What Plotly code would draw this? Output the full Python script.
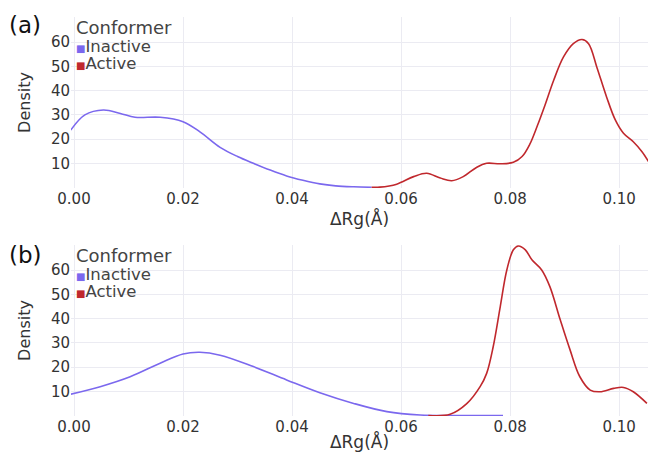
import plotly.graph_objects as go

# ---- data ----
a_inactive_x = [-0.0006, 0.0020, 0.0054, 0.0085, 0.0112, 0.0158, 0.0200, 0.0231, 0.0268, 0.0300,
                0.0329, 0.0360, 0.0390, 0.0420, 0.0451, 0.0480, 0.0513, 0.0546]
a_inactive_y = [23.7, 30.0, 32.0, 30.6, 29.0, 29.0, 27.2, 23.0, 16.6, 12.8,
                10.0, 7.2, 4.8, 3.0, 1.5, 0.7, 0.3, 0.1]

a_active_x = [0.0546, 0.0561, 0.0592, 0.0623, 0.0647, 0.0672, 0.0693, 0.0714, 0.0739, 0.0757,
              0.0782, 0.0806, 0.0822, 0.0836, 0.0850, 0.0864, 0.0880, 0.0898, 0.0916, 0.0932, 0.0944,
              0.0959, 0.0977, 0.0993, 0.1008, 0.1026, 0.1042, 0.1054]
a_active_y = [0.1, 0.15, 1.4, 4.5, 5.9, 3.9, 2.8, 4.5, 8.4, 10.0,
              9.8, 10.4, 12.8, 17.8, 25.5, 34.0, 44.3, 53.9, 59.4, 61.1, 59.4,
              49.8, 37.4, 27.9, 22.4, 18.9, 14.8, 10.7]

b_inactive_x = [-0.0006, 0.0048, 0.0103, 0.0158, 0.0200, 0.0231, 0.0268, 0.0329, 0.0390, 0.0451,
                0.0513, 0.0574, 0.0635, 0.0700, 0.0787]
b_inactive_y = [8.8, 11.9, 16.0, 21.6, 25.4, 26.1, 24.9, 20.2, 14.7, 9.4,
                5.0, 1.6, 0.2, 0.0, 0.0]

b_active_x = [0.0650, 0.0690, 0.0721, 0.0745, 0.0757, 0.0769, 0.0782, 0.0794, 0.0806, 0.0815,
              0.0828, 0.0840, 0.0858, 0.0873, 0.0892, 0.0910, 0.0928, 0.0947, 0.0965, 0.0990,
              0.1008, 0.1026, 0.1051]
b_active_y = [0.0, 0.5, 5.0, 11.9, 17.4, 28.4, 45.0, 60.1, 68.4, 70.0,
              68.4, 64.3, 60.1, 53.2, 39.5, 27.1, 16.0, 10.5, 9.8, 11.2,
              11.6, 9.8, 5.0]

x_ticks = [0.00, 0.02, 0.04, 0.06, 0.08, 0.10]
x_tick_text = ["0.00", "0.02", "0.04", "0.06", "0.08", "0.10"]
y_ticks = [10, 20, 30, 40, 50, 60]
series_names = ["Inactive", "Active"]
legend_title = "Conformer"
panel_labels = ["(a)", "(b)"]

# ---- style ----
PURPLE = "#7B68EE"
RED = "#C0282D"
FONT = "DejaVu Sans"
GRID = "#EBEBF2"
TXT = "#333333"

fig = go.Figure()
for xs, ys, col, xa, ya in [
    (a_inactive_x, a_inactive_y, PURPLE, "x", "y"),
    (a_active_x, a_active_y, RED, "x", "y"),
    (b_inactive_x, b_inactive_y, PURPLE, "x2", "y2"),
    (b_active_x, b_active_y, RED, "x2", "y2"),
]:
    fig.add_trace(go.Scatter(x=xs, y=ys, mode="lines", xaxis=xa, yaxis=ya,
                             line=dict(color=col, width=1.6, shape="spline", smoothing=1.0),
                             showlegend=False, hoverinfo="x+y"))

xaxis_common = dict(range=[-0.00055, 0.1053], tickvals=x_ticks, ticktext=x_tick_text,
                    showgrid=True, gridcolor=GRID, gridwidth=1, zeroline=False, showline=False,
                    ticks="", tickfont=dict(family=FONT, size=15, color=TXT),
                    title=dict(text="ΔRg(Å)", font=dict(family=FONT, size=17, color=TXT), standoff=2))
yaxis_common = dict(range=[-0.2, 70.4], tickvals=y_ticks, showgrid=True, gridcolor=GRID,
                    gridwidth=1, zeroline=False, showline=False, ticks="",
                    tickfont=dict(family=FONT, size=15, color=TXT),
                    title=dict(text="Density", font=dict(family=FONT, size=16, color=TXT), standoff=16))

fig.update_layout(
    width=649, height=452,
    margin=dict(l=71, r=1, t=17, b=36),
    paper_bgcolor="white", plot_bgcolor="white",
    xaxis=dict(domain=[0, 1], anchor="y", **xaxis_common),
    yaxis=dict(domain=[0.5714, 1], anchor="x", **yaxis_common),
    xaxis2=dict(domain=[0, 1], anchor="y2", **xaxis_common),
    yaxis2=dict(domain=[0, 0.4286], anchor="x2", **yaxis_common),
    showlegend=False,
)

def px_x(p):
    return (p - 71) / 577.0

def px_y(p):
    return 1 - (p - 17) / 399.0

legend_text = (f"<span style='font-size:18px'>{legend_title}</span><br>"
               + "<br>".join(
                   f"<span style='font-size:10px;color:{c}'>■</span>"
                   f"<span style='font-size:16.5px'>{n}</span>"
                   for n, c in zip(series_names, [PURPLE, RED])))

ann = []
for label, ly, top in [(panel_labels[0], 25, 17), (panel_labels[1], 255, 245)]:
    ann.append(dict(text=label, x=px_x(7), y=px_y(ly), xref="paper", yref="paper",
                    xanchor="left", yanchor="middle", showarrow=False,
                    font=dict(family=FONT, size=23, color="#111111")))
    ann.append(dict(text=legend_text, x=px_x(75), y=px_y(top - 1.5), xref="paper", yref="paper",
                    xanchor="left", yanchor="top", align="left", showarrow=False, borderpad=0,
                    font=dict(family=FONT, size=13.5, color="#444444")))
fig.update_layout(annotations=ann)

fig.write_html("out.html")
